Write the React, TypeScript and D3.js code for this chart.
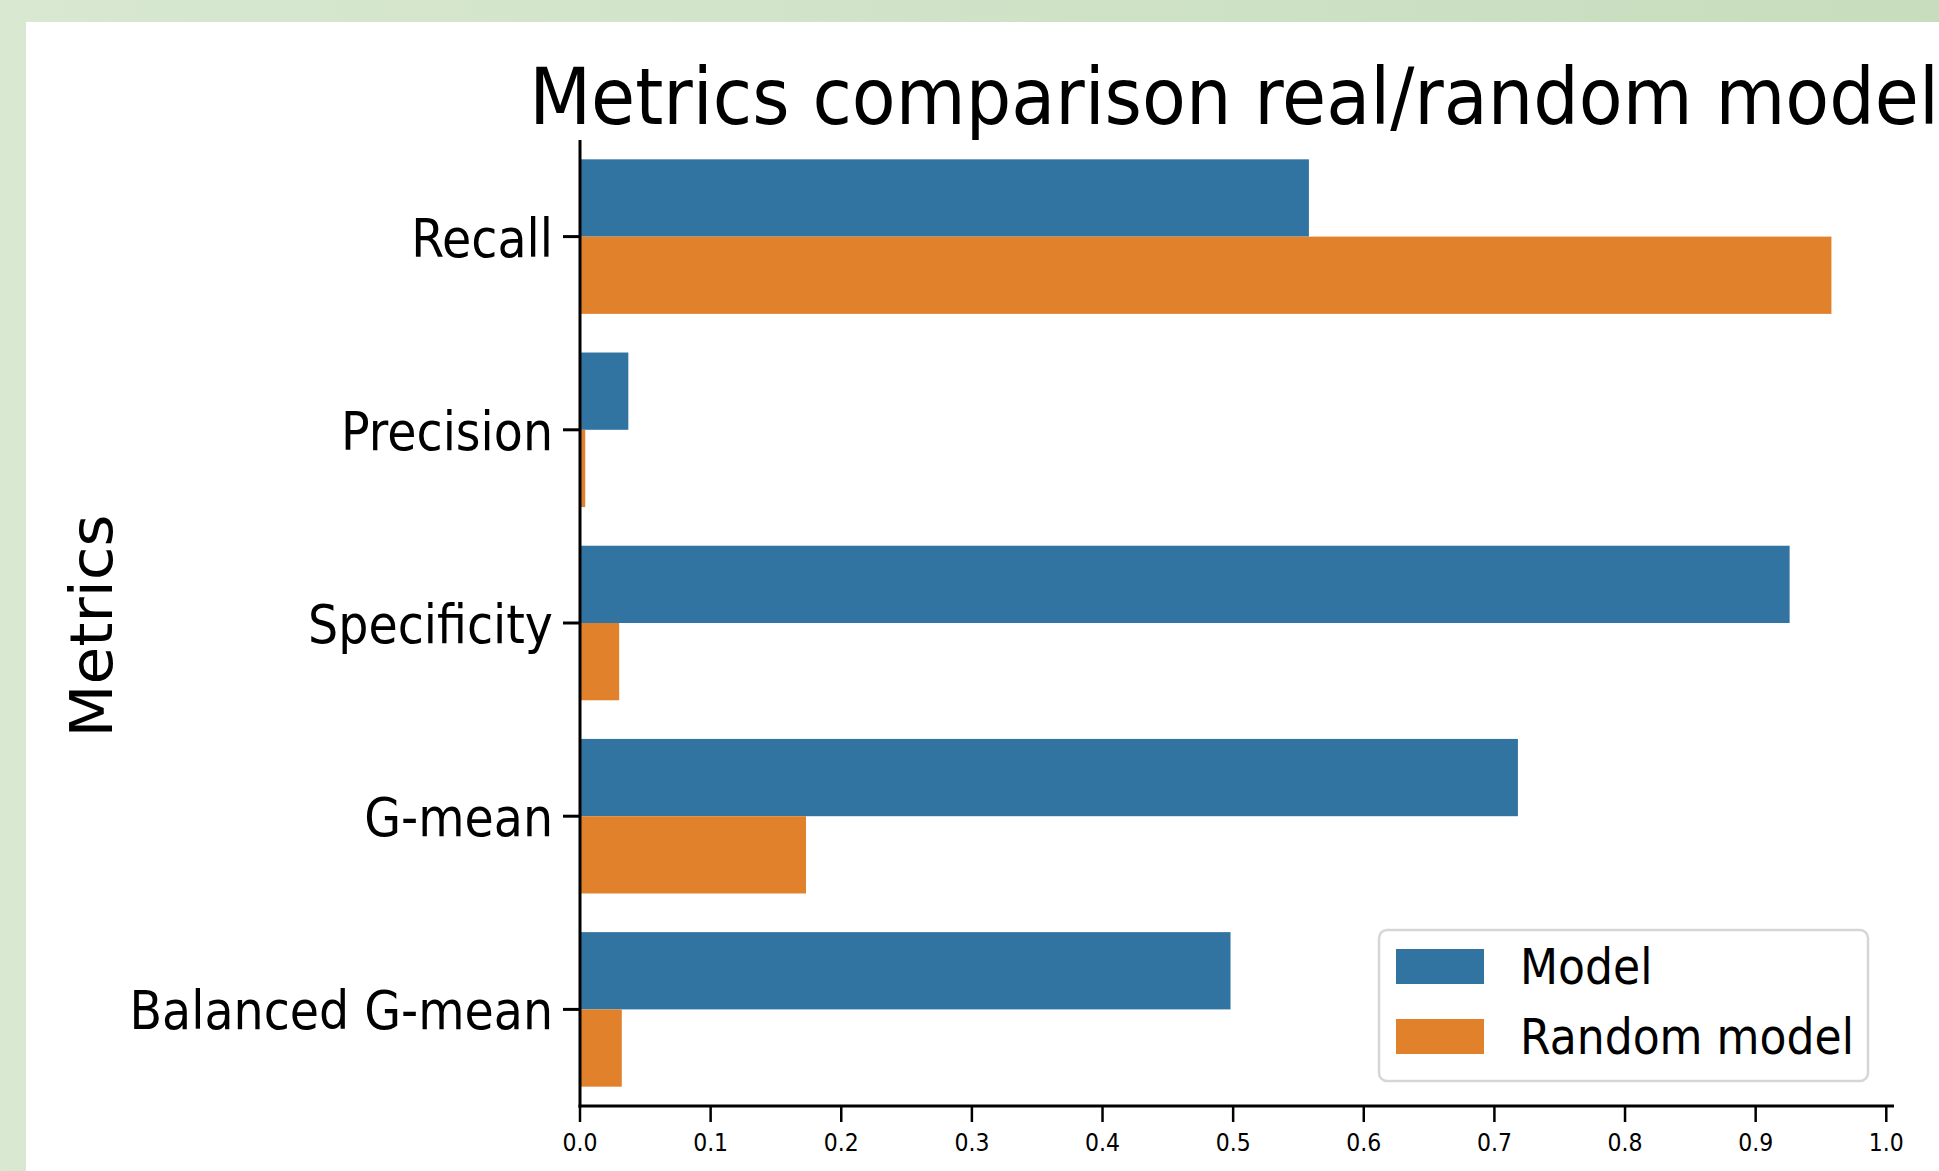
import React from "react";
import * as d3 from "d3";

// Metric names shown on the y axis (top to bottom)
const metrics = ["Recall", "Precision", "Specificity", "G-mean", "Balanced G-mean"];
// Series shown for every metric
const seriesNames = ["Model", "Random model"];
// Scores of the trained model
const modelValues = [0.558, 0.037, 0.926, 0.718, 0.498];
// Scores of the random baseline
const randomValues = [0.958, 0.004, 0.030, 0.173, 0.032];
// Tick values of the x axis
const xTicks = [0, 0.1, 0.2, 0.3, 0.4, 0.5, 0.6, 0.7, 0.8, 0.9, 1.0];

const colors = ["#3274a1", "#e1812c"];

const W = 1939;
const H = 1171;
const FONT = "'DejaVu Sans', sans-serif";

export default function App() {
  const plot = { left: 580, right: 1894, top: 140, bottom: 1106 };
  const seriesValues = [modelValues, randomValues];
  const maxVal = d3.max(seriesValues.flat()) as number;

  const x = d3
    .scaleLinear()
    .domain([0, maxVal * 1.05])
    .range([plot.left, plot.right]);

  const y = d3
    .scaleBand<string>()
    .domain(metrics)
    .range([plot.top, plot.bottom])
    .paddingInner(0.2)
    .paddingOuter(0.1);

  const ySub = d3
    .scaleBand<string>()
    .domain(seriesNames)
    .range([0, y.bandwidth()]);

  const tickY = (m: string) => (y(m) as number) + y.bandwidth() / 2;

  return (
    <svg
      width={W}
      height={H}
      style={{ position: "absolute", left: 0, top: 0, display: "block" }}
      fontFamily={FONT}
    >
      <defs>
        <linearGradient id="frame" x1="0" y1="0" x2="1" y2="0">
          <stop offset="0" stopColor="#d8e8d1" />
          <stop offset="1" stopColor="#c7ddbd" />
        </linearGradient>
      </defs>
      <rect x={0} y={0} width={W} height={H} fill="url(#frame)" />
      <rect x={26} y={22} width={W - 26} height={H - 22} fill="#ffffff" />

      {/* title */}
      <text
        transform={`translate(${(plot.left + plot.right) / 2 - 3},124) scale(0.92,1)`}
        textAnchor="middle"
        fontSize={78}
        fill="#000"
      >
        Metrics comparison real/random model
      </text>

      {/* bars */}
      {metrics.map((m, i) =>
        seriesNames.map((s, j) => (
          <rect
            key={`${m}-${s}`}
            x={x(0)}
            y={(y(m) as number) + (ySub(s) as number)}
            width={x(seriesValues[j][i]) - x(0)}
            height={ySub.bandwidth()}
            fill={colors[j]}
          />
        ))
      )}

      {/* y axis */}
      <line x1={plot.left} x2={plot.left} y1={plot.top} y2={plot.bottom + 1.5} stroke="#000" strokeWidth={3} />
      {metrics.map((m) => (
        <g key={m}>
          <line x1={plot.left - 17} x2={plot.left} y1={tickY(m)} y2={tickY(m)} stroke="#000" strokeWidth={3} />
          <text
            transform={`translate(${plot.left - 27},${tickY(m) + 20}) scale(0.88,1)`}
            textAnchor="end"
            fontSize={54}
            fill="#000"
          >
            {m}
          </text>
        </g>
      ))}
      <text
        transform={`translate(112,${(plot.top + plot.bottom) / 2 + 3}) rotate(-90) scale(1.06,1)`}
        textAnchor="middle"
        fontSize={58}
        fill="#000"
      >
        Metrics
      </text>

      {/* x axis */}
      <line x1={plot.left - 1.5} x2={plot.right} y1={plot.bottom} y2={plot.bottom} stroke="#000" strokeWidth={3} />
      {xTicks.map((t) => (
        <g key={t}>
          <line x1={x(t)} x2={x(t)} y1={plot.bottom} y2={plot.bottom + 16} stroke="#000" strokeWidth={2.5} />
          <text
            transform={`translate(${x(t)},1151) scale(0.88,1)`}
            textAnchor="middle"
            fontSize={25}
            fill="#000"
          >
            {t.toFixed(1)}
          </text>
        </g>
      ))}

      {/* legend */}
      <g>
        <rect x={1379} y={930} width={489} height={151} rx={8} ry={8} fill="#fff" stroke="#d6d6d6" strokeWidth={2.5} />
        {seriesNames.map((s, j) => (
          <g key={s} transform={`translate(0,${j * 70})`}>
            <rect x={1396} y={949} width={88} height={35} fill={colors[j]} />
            <text transform={`translate(1520,984) scale(0.9,1)`} fontSize={49} fill="#000">
              {s}
            </text>
          </g>
        ))}
      </g>
    </svg>
  );
}
